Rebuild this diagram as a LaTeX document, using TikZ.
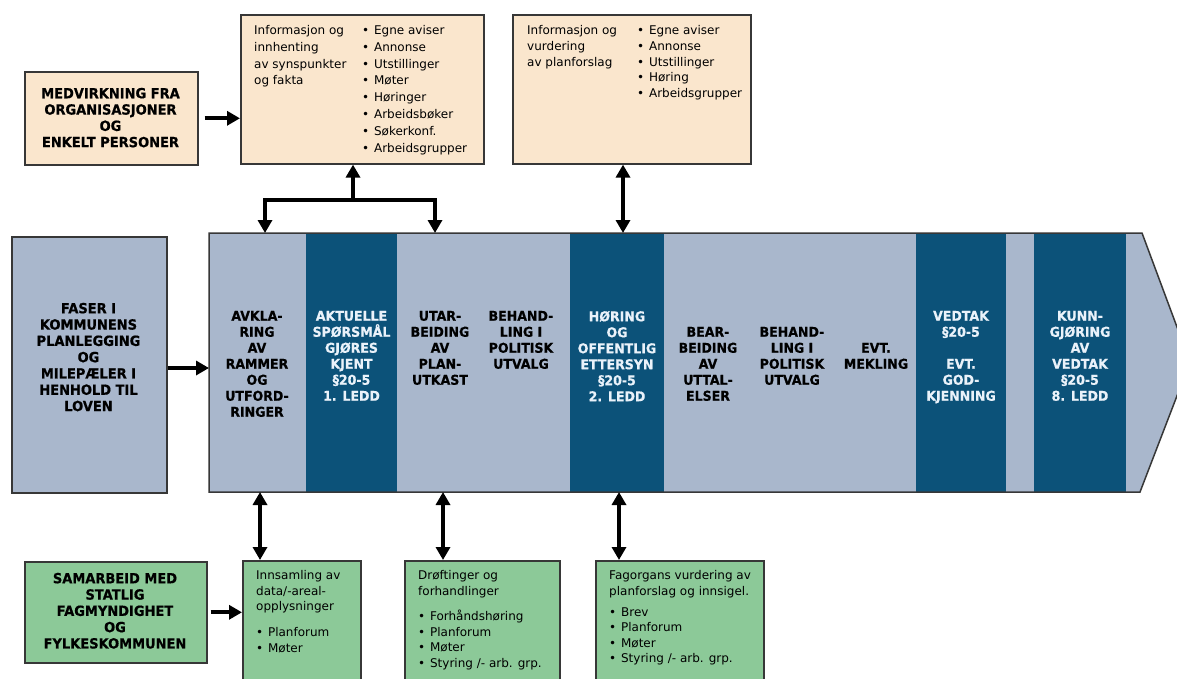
\documentclass[tikz,border=0pt]{standalone}
\usepackage{fontspec}
\setmainfont{DejaVu Sans}[BoldFeatures={FakeStretch=0.93,FakeBold=0.6}]
\usetikzlibrary{arrows.meta}
\definecolor{beige}{RGB}{250,230,205}
\definecolor{lblue}{RGB}{169,183,204}
\definecolor{dblue}{RGB}{12,82,121}
\definecolor{lgreen}{RGB}{140,201,152}
\definecolor{edgec}{RGB}{55,55,55}
\definecolor{wtext}{RGB}{234,242,250}
\newcommand{\bl}{•\hspace{0.4em}}
\begin{document}
\begin{tikzpicture}[x=1pt,y=-1pt,
  boxb/.style={draw=edgec, line width=1.6pt, anchor=north west, inner sep=0pt},
  btxt/.style={font=\fontsize{13.5}{16}\selectfont\bfseries, align=center, inner sep=0pt, anchor=north, yshift=6.3pt, execute at begin node=\strut},
  btxtL/.style={font=\fontsize{14}{16.3}\selectfont\bfseries, align=center, inner sep=0pt, anchor=north, yshift=6.3pt, execute at begin node=\strut},
  wtxt/.style={btxt, text=wtext},
  rtxt/.style={font=\fontsize{12}{#1}\selectfont, align=left, inner sep=0pt, anchor=north west, yshift=6.8pt, execute at begin node=\strut},
  rtxt/.default=15.5,
  conn/.style={line width=3.8pt, draw=black, -{Triangle[length=13pt,width=14pt]}},
  dconn/.style={line width=3.8pt, draw=black, {Triangle[length=13pt,width=14pt]}-{Triangle[length=13pt,width=14pt]}}
]
\useasboundingbox (0,0) rectangle (1177,679);
\clip (0,0) rectangle (1177,679);
\fill[white] (0,0) rectangle (1177,679);

% ---------- top boxes ----------
\node[boxb, fill=beige, minimum width=173pt, minimum height=93pt] (medv) at (24,71) {};
\node[btxtL] (tmedv) at (110.5,94) {MEDVIRKNING FRA\\ORGANISASJONER\\OG\\ENKELT PERSONER};

\node[boxb, fill=beige, minimum width=243pt, minimum height=149pt] (box1) at (240,14) {};
\node[rtxt=16.8] (t1a) at (254,32) {Informasjon og\\innhenting\\av synspunkter\\og fakta};
\node[rtxt=16.8] (t1b) at (362,32) {\bl Egne aviser\\\bl Annonse\\\bl Utstillinger\\\bl Møter\\\bl Høringer\\\bl Arbeidsbøker\\\bl Søkerkonf.\\\bl Arbeidsgrupper};

\node[boxb, fill=beige, minimum width=238pt, minimum height=149pt] (box2) at (512,14) {};
\node[rtxt=15.8] (t2a) at (527,32) {Informasjon og\\vurdering\\av planforslag};
\node[rtxt=15.8] (t2b) at (637,32) {\bl Egne aviser\\\bl Annonse\\\bl Utstillinger\\\bl Høring\\\bl Arbeidsgrupper};

% ---------- left phase box ----------
\node[boxb, fill=lblue, minimum width=155pt, minimum height=256pt] (faser) at (11,236) {};
\node[btxtL] (tfaser) at (88.5,309) {FASER I\\KOMMUNENS\\PLANLEGGING\\OG\\MILEPÆLER I\\HENHOLD TIL\\LOVEN};

% ---------- main band ----------
\fill[lblue] (209,233) -- (1142,233) -- (1190,362) -- (1140,492) -- (209,492) -- cycle;
\fill[dblue] (306,233) rectangle (397,492);
\fill[dblue] (570,233) rectangle (664,492);
\fill[dblue] (916,233) rectangle (1006,492);
\fill[dblue] (1034,233) rectangle (1126,492);
\draw[edgec, line width=1.5pt, line join=miter] (209,233) -- (1142,233) -- (1190,362) -- (1140,492) -- (209,492) -- cycle;

\node[btxt] (c1) at (257,317) {AVKLA-\\RING\\AV\\RAMMER\\OG\\UTFORD-\\RINGER};
\node[wtxt] (c2) at (351.5,317) {AKTUELLE\\SPØRSMÅL\\GJØRES\\KJENT\\§20-5\\1. LEDD};
\node[btxt] (c3) at (440,317) {UTAR-\\BEIDING\\AV\\PLAN-\\UTKAST};
\node[btxt] (c4) at (521,317) {BEHAND-\\LING I\\POLITISK\\UTVALG};
\node[wtxt] (c5) at (617,317) {HØRING\\OG\\OFFENTLIG\\ETTERSYN\\§20-5\\2. LEDD};
\node[btxt] (c6) at (708,333) {BEAR-\\BEIDING\\AV\\UTTAL-\\ELSER};
\node[btxt] (c7) at (792,333) {BEHAND-\\LING I\\POLITISK\\UTVALG};
\node[btxt] (c8) at (876,349) {EVT.\\MEKLING};
\node[wtxt] (c9) at (961,317) {VEDTAK\\§20-5\\[16pt]EVT.\\GOD-\\KJENNING};
\node[wtxt] (c10) at (1080,317) {KUNN-\\GJØRING\\AV\\VEDTAK\\§20-5\\8. LEDD};

\coordinate (bt1) at (265,233);
\coordinate (bt2) at (435,233);
\coordinate (bt3) at (623,233);
\coordinate (bb1) at (260,492);
\coordinate (bb2) at (443,492);
\coordinate (bb3) at (619,492);
\coordinate (bin) at (209,368);
\coordinate (jn) at (353,200);

% ---------- bottom boxes ----------
\node[boxb, fill=lgreen, minimum width=182pt, minimum height=101pt] (samar) at (24,561) {};
\node[btxtL] (tsamar) at (115,579) {SAMARBEID MED\\STATLIG\\FAGMYNDIGHET\\OG\\FYLKESKOMMUNEN};

\node[boxb, fill=lgreen, minimum width=118pt, minimum height=140pt] (g1) at (242,560) {};
\node[rtxt] (g1a) at (256,577) {Innsamling av\\data/-areal-\\opplysninger};
\node[rtxt] (g1b) at (256,634) {\bl Planforum\\\bl Møter};

\node[boxb, fill=lgreen, minimum width=155pt, minimum height=140pt] (g2) at (404,560) {};
\node[rtxt] (g2a) at (418,577) {Drøftinger og\\forhandlinger};
\node[rtxt] (g2b) at (418,617) {\bl Forhåndshøring\\\bl Planforum\\\bl Møter\\\bl Styring /- arb. grp.};

\node[boxb, fill=lgreen, minimum width=168pt, minimum height=140pt] (g3) at (595,560) {};
\node[rtxt] (g3a) at (609,577) {Fagorgans vurdering av\\planforslag og innsigel.};
\node[rtxt] (g3b) at (609,614) {\bl Brev\\\bl Planforum\\\bl Møter\\\bl Styring /- arb. grp.};

% ---------- connectors ----------
\draw[conn] (medv.east) ++(6,0) -- (medv.east -| box1.west);
\draw[conn] (jn) -- (jn |- box1.south);
\draw[line width=3.8pt, line join=miter, {Triangle[length=13pt,width=14pt]}-{Triangle[length=13pt,width=14pt]}] (bt1) -- (bt1 |- jn) -- (bt2 |- jn) -- (bt2);
\draw[dconn] (bt3 |- box2.south) -- (bt3);
\draw[conn] (faser.east |- bin) -- (bin);
\draw[dconn] (bb1) -- (bb1 |- g1.north);
\draw[dconn] (bb2) -- (bb2 |- g2.north);
\draw[dconn] (bb3) -- (bb3 |- g3.north);
\draw[conn] (samar.east) ++(3,0) -- (samar.east -| g1.west);
\end{tikzpicture}
\end{document}
